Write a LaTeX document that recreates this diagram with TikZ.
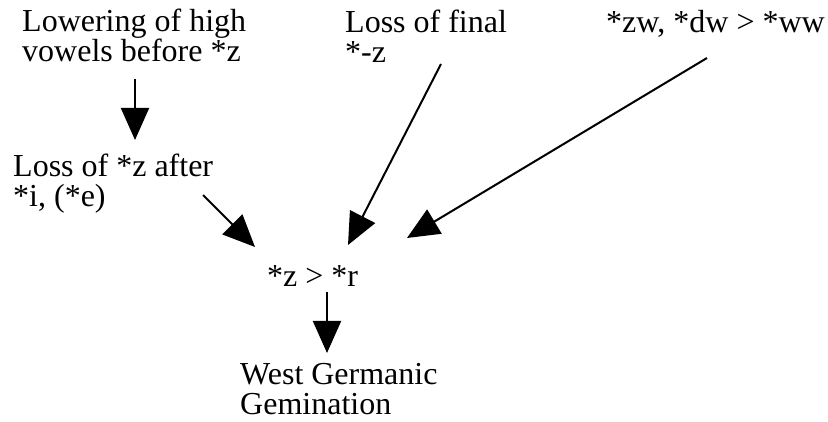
\documentclass[tikz,border=0pt]{standalone}
\usepackage{fontspec}
\setmainfont{Liberation Serif}
\usetikzlibrary{arrows.meta}
\begin{document}
\begin{tikzpicture}[
    x=1pt, y=-1pt,
    change/.style={
        anchor=base west,
        align=left,
        inner sep=0pt,
        font=\fontsize{32}{30}\selectfont
    },
    flow/.style={
        -{Triangle[length=32pt,width=28pt]},
        line width=2pt
    }
]
\useasboundingbox (0,0) rectangle (828,422);

%% --- Changements phonétiques (ancre : ligne de base de la dernière ligne) ---
\node[change] (lowering)   at (22,62)   {Lowering of high\\vowels before *z};
\node[change] (final)      at (345,63)  {Loss of final\\*-z};
\node[change] (merger)     at (606,33)  {*zw, *dw > *ww};
\node[change] (sibilant)   at (13,207)  {Loss of *z after\\*i, (*e)};
\node[change] (rhotic)     at (267,287) {*z > *r};
\node[change] (gemination) at (240,414) {West Germanic\\Gemination};

%% --- Flèches ---
\draw[flow] ([shift={(113,17)}]lowering.base west) -- ([shift={(122,-67)}]sibilant.base west);
\draw[flow] ([shift={(190,-12)}]sibilant.base west) -- ([shift={(-12,-40)}]rhotic.base west);
\draw[flow] ([shift={(96,1)}]final.base west)       -- ([shift={(81,-42)}]rhotic.base west);
\draw[flow] ([shift={(101,25)}]merger.base west)    -- ([shift={(140,-49)}]rhotic.base west);
\draw[flow] ([shift={(60,5)}]rhotic.base west)      -- ([shift={(87,-61)}]gemination.base west);

\end{tikzpicture}
\end{document}
